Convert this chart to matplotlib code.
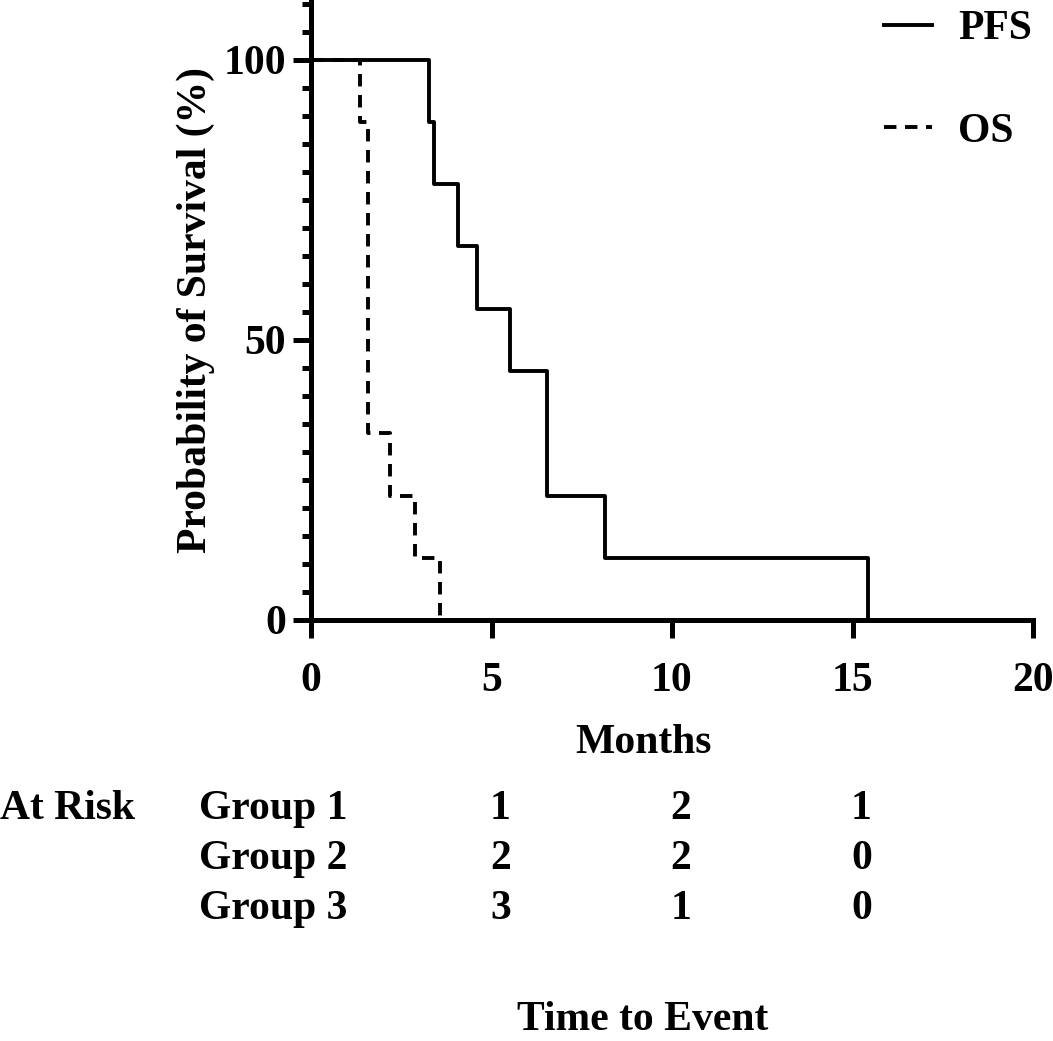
import matplotlib
matplotlib.use("Agg")
import matplotlib.pyplot as plt
import matplotlib.transforms as mtransforms
from matplotlib.ticker import MultipleLocator, FixedLocator

plt.rcParams['font.family'] = ['Liberation Serif', 'DejaVu Serif']
plt.rcParams['font.weight'] = 'bold'

# Kaplan-Meier step data (months, % surviving)
pfs_times = [0, 3.26, 3.40, 4.07, 4.61, 5.51, 6.54, 8.15, 15.43]
pfs_surv = [100, 88.9, 77.8, 66.7, 55.6, 44.4, 22.2, 11.1, 0]
os_times = [0, 1.35, 1.58, 2.19, 2.87, 3.58]
os_surv = [100, 88.9, 33.3, 22.2, 11.1, 0]

# numbers at risk
risk_times = [5, 10, 15]
risk_groups = ["Group 1", "Group 2", "Group 3"]
risk_counts = [[1, 2, 1], [2, 2, 0], [3, 1, 0]]

W, H = 1053, 1041
fs = 30
lw_axis = 3.6
lw_line = 2.8

fig = plt.figure(figsize=(W / 100, H / 100), dpi=100)
ax = fig.add_axes([311 / W, 421 / H, 722 / W, 620 / H])

ax.step(pfs_times, pfs_surv, where='post', color='black', lw=lw_line,
        label='PFS')
ax.step(os_times, os_surv, where='post', color='black', lw=lw_line,
        linestyle=(0, (3.2, 2.2)), label='OS')

ax.set_xlim(0, 20)
ax.set_ylim(0, 110.7)
ax.xaxis.set_major_locator(FixedLocator([0, 5, 10, 15, 20]))
ax.yaxis.set_major_locator(FixedLocator([0, 50, 100]))
ax.yaxis.set_minor_locator(MultipleLocator(5))

for s in ['top', 'right']:
    ax.spines[s].set_visible(False)
for s in ['left', 'bottom']:
    ax.spines[s].set_linewidth(lw_axis)

ax.tick_params(axis='both', which='major', length=13, width=lw_axis,
               labelsize=fs, direction='out')
ax.tick_params(axis='x', which='major', pad=17)
ax.tick_params(axis='y', which='major', pad=5)
ax.tick_params(axis='y', which='minor', left=True, length=6.5,
               width=lw_axis, direction='out')
for lab in ax.get_xticklabels() + ax.get_yticklabels():
    lab.set_fontweight('bold')

ax.set_ylabel('Probability of Survival (%)', fontsize=fs, fontweight='bold',
              labelpad=6)

leg = ax.legend(loc='upper right', bbox_to_anchor=(1036 / W, 1 - 6 / H),
                bbox_transform=fig.transFigure, frameon=False, fontsize=fs,
                handlelength=1.15, handletextpad=0.62, labelspacing=1.55,
                borderaxespad=0, borderpad=0.1)
for t in leg.get_texts():
    t.set_fontweight('bold')

def fy(px):
    return 1 - px / H

fig.text(643 / W, fy(753), 'Months', ha='center', va='baseline',
         fontsize=fs, fontweight='bold')
fig.text(0, fy(819), 'At Risk', ha='left', va='baseline',
         fontsize=fs, fontweight='bold')

row_base = [819, 869, 919]
trans = mtransforms.blended_transform_factory(ax.transData, fig.transFigure)
offset = mtransforms.ScaledTranslation(9 / 100, 0, fig.dpi_scale_trans)
for name, counts, yb in zip(risk_groups, risk_counts, row_base):
    fig.text(199 / W, fy(yb), name, ha='left', va='baseline',
             fontsize=fs, fontweight='bold')
    for t, c in zip(risk_times, counts):
        fig.text(t, fy(yb), str(c), ha='center', va='baseline',
                 fontsize=fs, fontweight='bold', transform=trans + offset)

fig.text(643 / W, fy(1030), 'Time to Event', ha='center', va='baseline',
         fontsize=fs, fontweight='bold')

fig.savefig('out.png', dpi=100)
